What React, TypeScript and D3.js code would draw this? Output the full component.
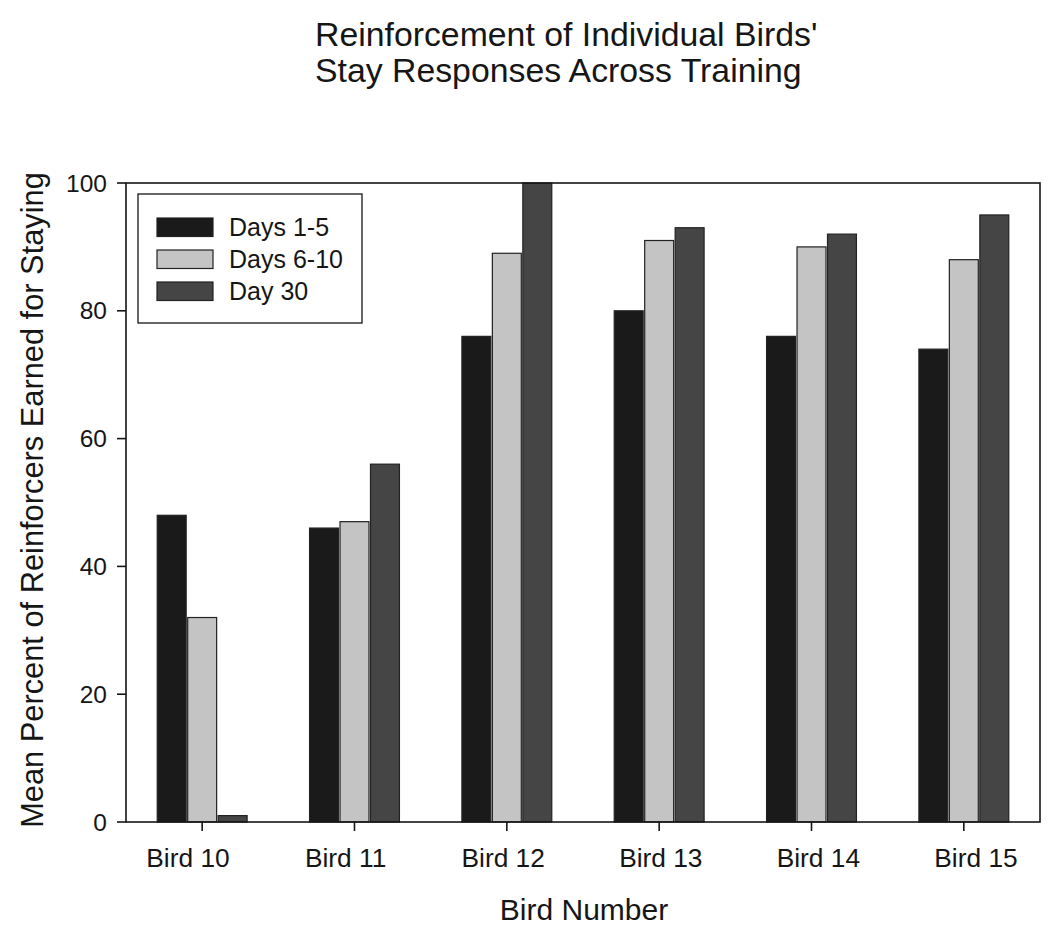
import React from "react";
import * as d3 from "d3";

const birds = ["Bird 10", "Bird 11", "Bird 12", "Bird 13", "Bird 14", "Bird 15"];
const seriesNames = ["Days 1-5", "Days 6-10", "Day 30"];
const days1to5 = [48, 46, 76, 80, 76, 74];
const days6to10 = [32, 47, 89, 91, 90, 88];
const day30 = [1, 56, 100, 93, 92, 95];
const yTicks = [0, 20, 40, 60, 80, 100];
const titleLines = ["Reinforcement of Individual Birds'", "Stay Responses Across Training"];
const xTitle = "Bird Number";
const yTitle = "Mean Percent of Reinforcers Earned for Staying";

const colors = ["#1a1a1a", "#c4c4c4", "#454545"];
const FONT = "'Liberation Sans', Arial, sans-serif";
const INK = "#161616";

export default function App() {
  const W = 1050, H = 945;
  const left = 126, right = 1040, top = 183, bottom = 822;
  const seriesValues = [days1to5, days6to10, day30];

  const x = d3.scaleBand<string>().domain(birds).range([left, right]).paddingInner(0.41).paddingOuter(0.205);
  const xInner = d3.scaleBand<string>().domain(seriesNames).range([0, x.bandwidth()]).paddingInner(0.05);
  const y = d3.scaleLinear().domain([0, 100]).range([bottom, top]);
  const labelX = d3.scalePoint<string>().domain(birds).range([188, 976]);

  return (
    <svg width={W} height={H} style={{ position: "absolute", left: 0, top: 0, background: "#fff" }} fontFamily={FONT}>
      <rect x={0} y={0} width={W} height={H} fill="#fff" />
      {titleLines.map((t, i) => (
        <text key={i} x={315} y={46 + i * 36} fontSize={33.8} fill={INK}>{t}</text>
      ))}
      {/* bars */}
      {birds.map((b, bi) => (
        <g key={b}>
          {seriesNames.map((s, si) => {
            const v = seriesValues[si][bi];
            const bx = (x(b) as number) + (xInner(s) as number);
            return (
              <rect key={s} x={bx} y={y(v)} width={xInner.bandwidth()} height={y(0) - y(v)}
                fill={colors[si]} stroke="#222" strokeWidth={1.2} />
            );
          })}
        </g>
      ))}
      {/* frame */}
      <rect x={left} y={top} width={right - left} height={bottom - top} fill="none" stroke={INK} strokeWidth={1.6} />
      {/* y ticks */}
      {yTicks.map((t) => (
        <g key={t}>
          <line x1={left - 9} x2={left} y1={y(t)} y2={y(t)} stroke={INK} strokeWidth={1.6} />
          <text x={107} y={y(t)} dy="0.35em" textAnchor="end" fontSize={24.5} fill={INK}>{t}</text>
        </g>
      ))}
      {/* x ticks */}
      {birds.map((b) => {
        const cx = (x(b) as number) + x.bandwidth() / 2;
        return (
          <g key={b}>
            <line x1={cx} x2={cx} y1={bottom} y2={bottom + 9} stroke={INK} strokeWidth={1.6} />
            <text x={labelX(b)} y={867} textAnchor="middle" fontSize={26.3} fill={INK}>{b}</text>
          </g>
        );
      })}
      <text x={584} y={920} textAnchor="middle" fontSize={30} fill={INK}>{xTitle}</text>
      <text transform={`translate(43,500) rotate(-90)`} textAnchor="middle" fontSize={30.8} fill={INK}>{yTitle}</text>
      {/* legend */}
      <rect x={138} y={194} width={224} height={129} fill="#fff" stroke={INK} strokeWidth={1.3} />
      {seriesNames.map((s, i) => (
        <g key={s}>
          <rect x={157} y={218 + i * 32} width={56} height={18.5} fill={colors[i]} stroke="#222" strokeWidth={1.2} />
          <text x={229} y={236 + i * 32} fontSize={25} fill={INK}>{s}</text>
        </g>
      ))}
    </svg>
  );
}
